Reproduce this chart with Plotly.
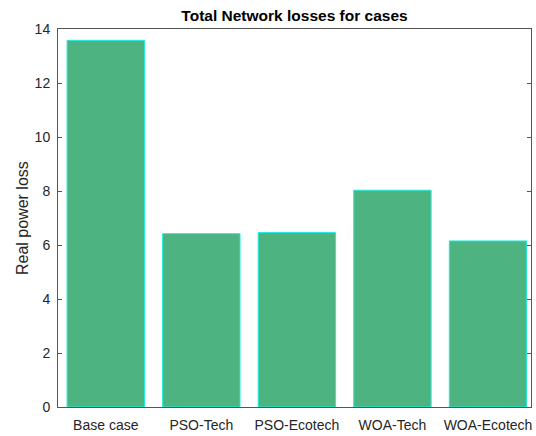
import plotly.graph_objects as go

categories = ["Base case", "PSO-Tech", "PSO-Ecotech", "WOA-Tech", "WOA-Ecotech"]
losses = [13.58, 6.42, 6.46, 8.03, 6.15]
y_ticks = [0, 2, 4, 6, 8, 10, 12, 14]

W, H = 536, 436
L, R, T, B = 58, 5, 29, 29
pw = W - L - R

fig = go.Figure(
    go.Bar(
        x=categories,
        y=losses,
        width=0.81,
        marker=dict(color="#4DB380", line=dict(color="#1EEDE0", width=1)),
    )
)

fig.update_layout(
    width=W,
    height=H,
    margin=dict(l=L, r=R, t=T, b=B),
    paper_bgcolor="white",
    plot_bgcolor="white",
    showlegend=False,
    font=dict(family="Liberation Sans, Arial, sans-serif", color="#262626", size=14),
    title=dict(
        text="<b>Total Network losses for cases</b>",
        x=(L + pw / 2) / W,
        xanchor="center",
        y=1 - 16 / H,
        yanchor="middle",
        font=dict(size=15.5, color="black"),
    ),
    annotations=[
        dict(
            text="Real power loss",
            xref="paper",
            yref="paper",
            x=(22 - L) / pw,
            y=0.5,
            xanchor="center",
            yanchor="middle",
            textangle=-90,
            showarrow=False,
            font=dict(size=16, color="#262626"),
        )
    ],
)

fig.update_xaxes(
    type="category",
    range=[-0.5, 4.45],
    automargin=False,
    showline=True,
    linecolor="#555555",
    linewidth=1,
    mirror=True,
    ticks="",
    showgrid=False,
    ticklabelstandoff=5,
    tickfont=dict(size=14, color="#262626"),
)

fig.update_yaxes(
    range=[0, 14],
    tickvals=y_ticks,
    automargin=False,
    showline=True,
    linecolor="#555555",
    linewidth=1,
    mirror="ticks",
    ticks="inside",
    ticklen=4,
    tickcolor="#555555",
    showgrid=False,
    zeroline=False,
    ticklabelstandoff=4,
    tickfont=dict(size=14, color="#262626"),
)

fig.write_html(
    "out.html",
    config={"displayModeBar": False},
    post_script="document.body.style.margin='0';document.body.style.overflow='hidden';",
)
